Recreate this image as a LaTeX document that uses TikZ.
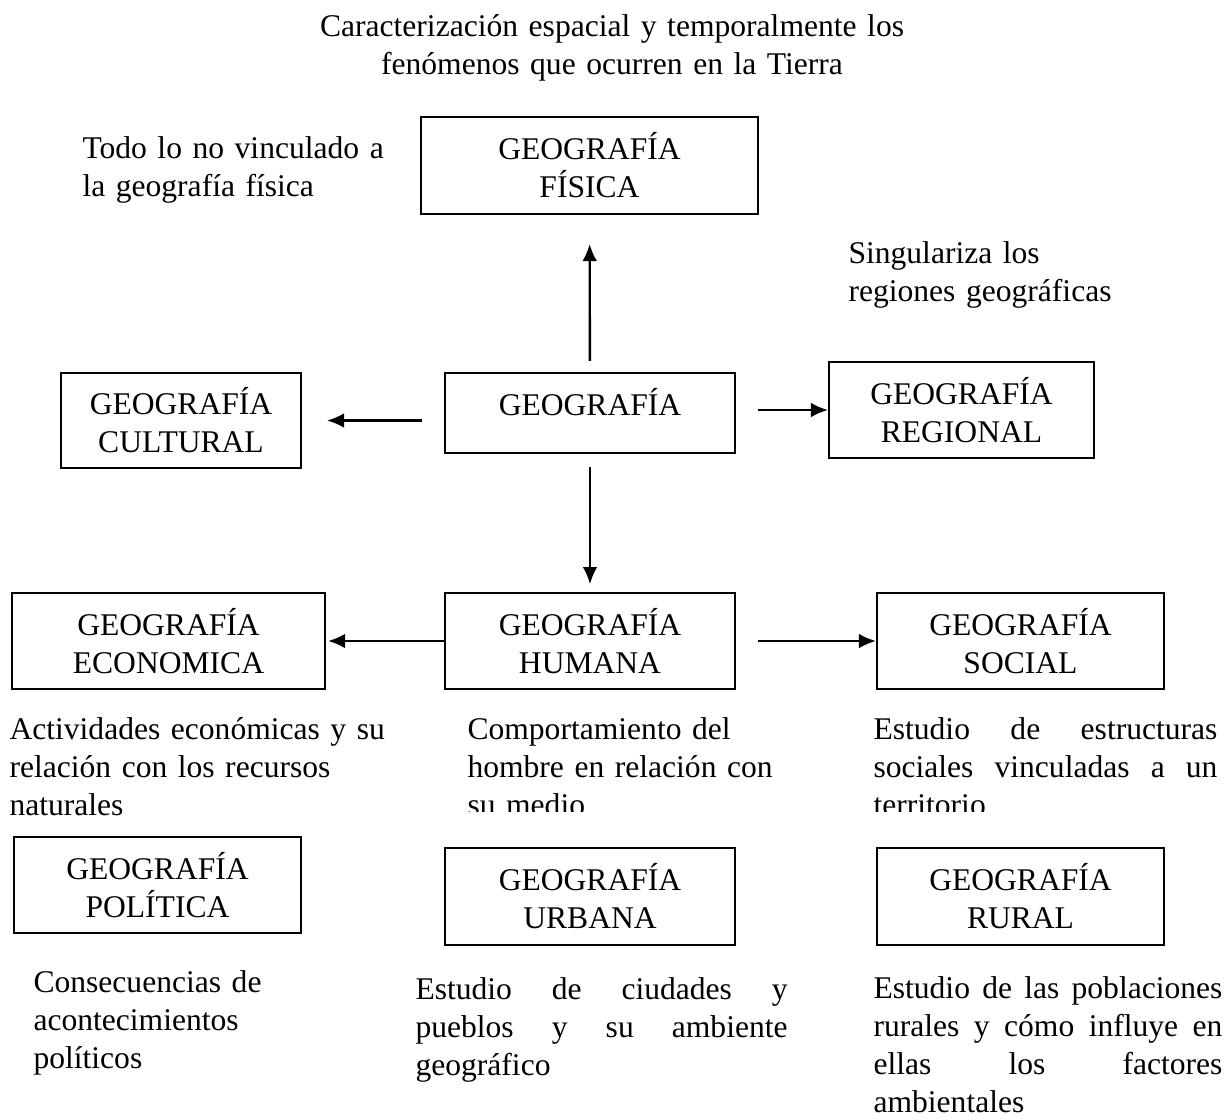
\documentclass[tikz,border=0pt]{standalone}
\usepackage{fontspec}
\setmainfont{Liberation Serif}
\usepackage{tikz}
\usetikzlibrary{arrows.meta}
\tikzset{
    geobox/.style = {draw, rectangle, line width=0.75pt, inner sep=0pt, align=center,
      font=\fontsize{12}{14.4}\selectfont},
    textnode/.style = {draw=none, fill=none, rectangle, inner sep=0pt, anchor=base west,
      text width=160pt, align=left, font=\fontsize{12}{14.44}\selectfont},
    justnode/.style = {textnode, align=justify},
    connect/.style = {black, line width=0.9pt, -{Latex[length=6.5pt,width=5.6pt]}}
}

\begin{document}
\begin{tikzpicture}[x=0.38pt, y=-0.38pt]
\useasboundingbox (0,0) rectangle (1228,1119);

\node [textnode, name=titulo, anchor=base, text width=250pt, align=center] at (612,36)
    {Caracterización espacial y temporalmente los\\fenómenos que ocurren en la Tierra};

% fila superior
\node [textnode, name=todo] at (82,158) {Todo lo no vinculado a\\la geografía física};
\node [geobox, name=fisica, minimum width=128.1pt, minimum height=36.9pt] at (589.5,165.5)
    {GEOGRAFÍA\\FÍSICA};
\node [textnode, name=singulariza] at (848,263) {Singulariza los\\regiones geográficas};

% fila central
\node [geobox, name=geografia, minimum width=110.2pt, minimum height=30.4pt,
    text depth=8.7pt] at (590,413) {GEOGRAFÍA};
\node [geobox, name=cultural, minimum width=91.2pt, minimum height=36.1pt] at (181,420.5)
    {GEOGRAFÍA\\CULTURAL};
\node [geobox, name=regional, minimum width=100.7pt, minimum height=36.5pt] at (961.5,410)
    {GEOGRAFÍA\\REGIONAL};

\draw (geografia) edge[connect, shorten <=4.2pt, shorten >=11pt] (fisica);
\draw (geografia.west |- cultural.east) edge[connect, shorten <=8.4pt, shorten >=9.5pt] (cultural.east);
\draw (geografia.east |- regional.west) edge[connect, shorten <=8.4pt] (regional.west);

% geografia humana
\node [geobox, name=humana, minimum width=110.2pt, minimum height=36.5pt] at (590,641)
    {GEOGRAFÍA\\HUMANA};
\node [geobox, name=economica, minimum width=118.9pt, minimum height=36.5pt] at (168.5,641)
    {GEOGRAFÍA\\ECONOMICA};
\node [geobox, name=social, minimum width=109.1pt, minimum height=36.5pt] at (1020.5,641)
    {GEOGRAFÍA\\SOCIAL};

\draw (geografia) edge[connect, shorten <=4.9pt, shorten >=3pt] (humana);
\draw (humana) edge[connect, shorten >=0.8pt] (economica);
\draw (humana) edge[connect, shorten <=8.4pt] (social);

\node [textnode, name=descecon] at (9,739)
    {Actividades económicas y su\\relación con los recursos\\naturales};
\begin{scope}
\clip (430,700) rectangle (1228,811);
\node [textnode, name=deschum] at (467,739)
    {Comportamiento del\\hombre en relación con\\su medio};
\node [justnode, name=descsoc, text width=130.7pt] at (873,739)
    {Estudio de estructuras\linebreak sociales vinculadas a un\linebreak territorio};
\end{scope}

% fila inferior
\node [geobox, name=politica, minimum width=109.1pt, minimum height=36.5pt] at (157.5,885)
    {GEOGRAFÍA\\POLÍTICA};
\node [geobox, name=urbana, minimum width=110.2pt, minimum height=36.9pt] at (590,896.5)
    {GEOGRAFÍA\\URBANA};
\node [geobox, name=rural, minimum width=109.1pt, minimum height=36.9pt] at (1020.5,896.5)
    {GEOGRAFÍA\\RURAL};

\node [textnode, name=descpol] at (33,992)
    {Consecuencias de\\acontecimientos\\políticos};
\node [justnode, name=descurb, text width=141.4pt] at (415,999)
    {Estudio de ciudades y\linebreak pueblos y su ambiente\linebreak geográfico};
\node [justnode, name=descrur, text width=132.6pt] at (873,998)
    {Estudio de las poblaciones\linebreak rurales y cómo influye en\linebreak ellas los factores\linebreak ambientales};
\end{tikzpicture}
\end{document}
